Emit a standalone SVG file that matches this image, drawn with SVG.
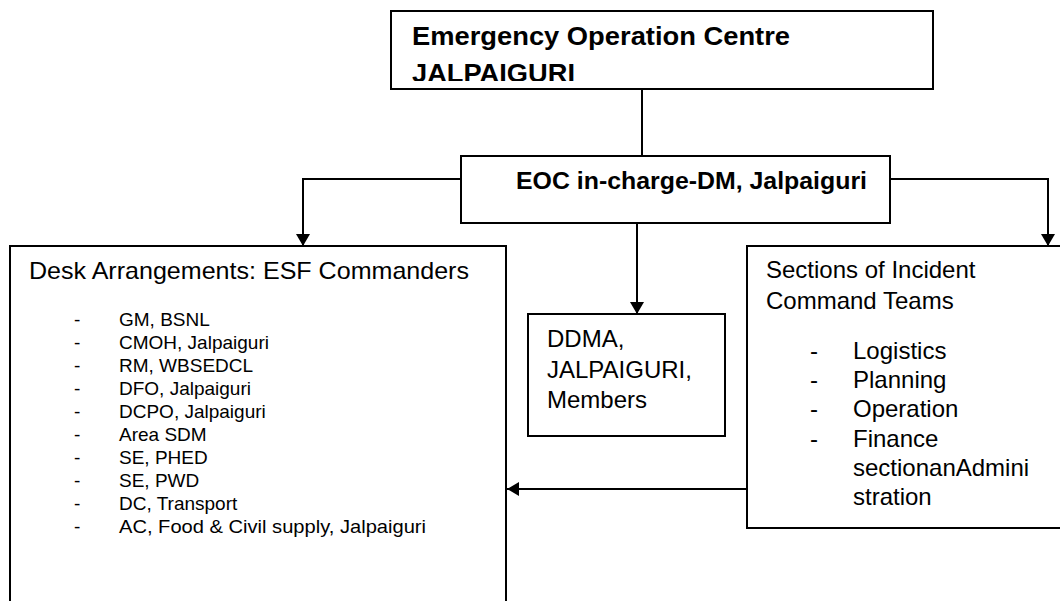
<svg xmlns="http://www.w3.org/2000/svg" width="1060" height="601" viewBox="0 0 1060 601">
  <style>
    .box { fill: #fff; stroke: #000; stroke-width: 2; }
    .link { fill: none; stroke: #000; stroke-width: 2; }
    .t { font-family: "Liberation Sans", Arial, sans-serif; fill: #000; }
    .b { font-weight: bold; }
  </style>
  <defs>
    <marker id="arrow" viewBox="0 0 12 14" refX="12" refY="7" markerWidth="12" markerHeight="14" markerUnits="userSpaceOnUse" orient="auto">
      <path d="M0,0 L12,7 L0,14 Z" fill="#000"/>
    </marker>
    <clipPath id="topclip">
      <rect x="392" y="12" width="540" height="69"/>
    </clipPath>
  </defs>

  <rect width="1060" height="601" fill="#fff"/>

  <!-- connectors -->
  <g id="connectors">
    <path class="link" d="M642,89 V156"/>
    <path class="link" d="M461,179 H303 V246" marker-end="url(#arrow)"/>
    <path class="link" d="M890,179 H1048 V246" marker-end="url(#arrow)"/>
    <path class="link" d="M637,223 V314" marker-end="url(#arrow)"/>
    <path class="link" d="M747,489 H507" marker-end="url(#arrow)"/>
  </g>

  <!-- Emergency Operation Centre -->
  <g id="eoc">
    <rect class="box" x="391" y="11" width="542" height="78"/>
    <g clip-path="url(#topclip)">
      <text class="t b" x="412" y="45" font-size="25" textLength="378" lengthAdjust="spacingAndGlyphs">Emergency Operation Centre</text>
      <text class="t b" x="412" y="82" font-size="25" textLength="163" lengthAdjust="spacingAndGlyphs">JALPAIGURI</text>
    </g>
  </g>

  <!-- EOC in-charge -->
  <g id="incharge">
    <rect class="box" x="461" y="156" width="429" height="67"/>
    <text class="t b" x="516" y="189" font-size="23.5" textLength="351" lengthAdjust="spacingAndGlyphs">EOC in-charge-DM, Jalpaiguri</text>
  </g>

  <!-- Desk arrangements -->
  <g id="desk">
    <path class="box" d="M10,610 V246 H506 V610"/>
    <text class="t" x="29" y="279" font-size="24" textLength="440" lengthAdjust="spacingAndGlyphs">Desk Arrangements: ESF Commanders</text>
    <g class="t" font-size="19">
      <text x="74" y="326">-</text><text x="119" y="326">GM, BSNL</text>
      <text x="74" y="349">-</text><text x="119" y="349">CMOH, Jalpaiguri</text>
      <text x="74" y="372">-</text><text x="119" y="372">RM, WBSEDCL</text>
      <text x="74" y="395">-</text><text x="119" y="395">DFO, Jalpaiguri</text>
      <text x="74" y="418">-</text><text x="119" y="418">DCPO, Jalpaiguri</text>
      <text x="74" y="441">-</text><text x="119" y="441">Area SDM</text>
      <text x="74" y="464">-</text><text x="119" y="464">SE, PHED</text>
      <text x="74" y="487">-</text><text x="119" y="487">SE, PWD</text>
      <text x="74" y="510">-</text><text x="119" y="510">DC, Transport</text>
      <text x="74" y="533">-</text><text x="119" y="533" textLength="307" lengthAdjust="spacingAndGlyphs">AC, Food &amp; Civil supply, Jalpaiguri</text>
    </g>
  </g>

  <!-- DDMA -->
  <g id="ddma">
    <rect class="box" x="528" y="314" width="197" height="122"/>
    <g class="t" font-size="24">
      <text x="547" y="347">DDMA,</text>
      <text x="547" y="378">JALPAIGURI,</text>
      <text x="547" y="408">Members</text>
    </g>
  </g>

  <!-- Incident command sections -->
  <g id="sections">
    <rect class="box" x="747" y="246" width="330" height="282"/>
    <g class="t" font-size="24">
      <text x="766" y="278">Sections of Incident</text>
      <text x="766" y="309">Command Teams</text>
      <text x="810" y="359">-</text><text x="853" y="359">Logistics</text>
      <text x="810" y="388">-</text><text x="853" y="388">Planning</text>
      <text x="810" y="417">-</text><text x="853" y="417">Operation</text>
      <text x="810" y="447">-</text><text x="853" y="447">Finance</text>
      <text x="853" y="476">sectionanAdmini</text>
      <text x="853" y="505">stration</text>
    </g>
  </g>
</svg>
